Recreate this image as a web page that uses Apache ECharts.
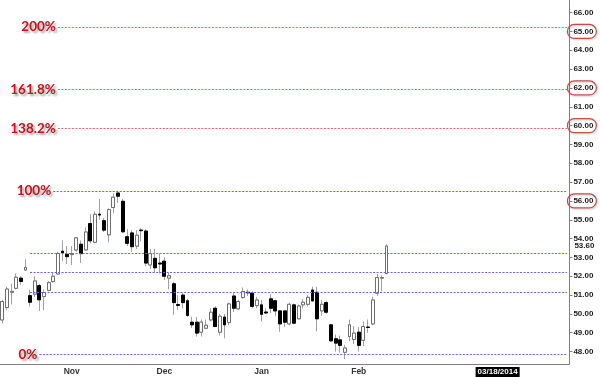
<!DOCTYPE html>
<html><head><meta charset="utf-8">
<script src="https://cdn.jsdelivr.net/npm/echarts@6/dist/echarts.min.js"></script>
<style>html,body{margin:0;padding:0;background:#fff}#c{width:600px;height:377px}</style>
</head><body><div id="c"></div>
<script>
// ---- data ----
const startDate = '2013-10-11';
const holidays = ['2013-11-28', '2013-12-25', '2014-01-01', '2014-01-20', '2014-02-17'];
const categoryCount = 123;
const opens  = [49.68,50.34,51.15,51.36,51.9,52.33,50.97,51.05,51.5,50.92,51.25,51.72,52.12,53.33,53.16,53.15,53.39,53.7,53.4,54.8,53.8,55.3,54.95,54.2,55.65,56.42,55.98,54.1,54.3,53.6,54.45,54.4,52.6,52.95,52.7,52.8,51.9,51.6,50.5,51.0,50.7,49.56,49.56,49.03,49.24,49.68,50.3,49.03,49.83,49.54,50.95,50.27,50.87,51.15,51.1,50.44,50.48,50.1,50.8,50.7,50.16,50.16,49.47,50.48,49.74,50.48,50.51,51.27,51.15,50.16,50.6,49.42,48.68,48.62,47.96,48.8,48.64,49.03,48.6,49.3,49.47,51.1,51.9,52.15];
const closes = [50.66,51.32,51.2,51.95,51.72,52.47,50.62,51.75,50.75,51.13,51.66,52.0,53.21,53.25,53.04,53.2,54.04,53.2,54.35,53.88,55.29,55.25,54.45,55.54,56.2,56.25,54.36,53.75,53.57,54.18,54.42,52.7,53.2,52.45,52.65,52.0,52.03,50.6,50.45,50.6,49.92,49.42,48.98,49.56,49.4,50.09,49.33,49.88,49.42,50.53,50.3,50.66,51.19,51.12,50.4,50.74,49.98,50.05,50.3,50.16,49.47,49.56,50.51,49.51,50.42,50.62,50.88,50.69,49.74,50.51,50.09,48.57,48.45,48.33,48.19,49.42,48.98,48.33,49.33,49.28,50.74,51.93,51.93,53.6];
const lows   = [49.5,50.2,50.5,51.3,51.55,52.3,50.4,50.9,50.15,50.2,51.2,51.65,52.1,52.8,52.65,52.6,53.3,52.7,53.35,53.75,53.75,55.0,54.35,53.8,55.35,55.9,54.3,53.6,53.3,53.45,53.85,52.55,52.4,52.2,52.15,51.8,51.3,49.95,50.2,50.3,49.85,49.25,48.8,48.8,49.2,49.6,49.3,48.85,48.7,49.4,50.1,50.2,50.8,50.95,50.3,50.3,49.6,50.0,50.05,49.9,49.05,49.3,49.4,49.45,49.7,50.3,50.4,50.65,49.07,49.9,50.0,48.5,48.0,47.95,47.6,48.55,48.4,48.0,48.3,49.0,49.4,50.95,51.2,52.1];
const highs  = [50.75,51.45,51.6,52.15,52.0,52.9,51.3,52.0,51.6,51.3,51.75,52.2,53.3,53.9,53.6,53.6,54.1,53.9,54.6,55.3,55.45,56.1,55.1,55.6,56.4,56.55,56.1,54.5,54.45,54.45,54.55,54.5,53.45,53.45,53.2,53.0,52.2,51.7,51.0,51.1,50.8,49.85,49.85,49.7,49.7,50.3,50.4,50.0,50.0,50.6,51.1,50.75,51.4,51.3,51.2,50.9,50.75,50.3,51.05,50.75,50.2,50.2,50.6,50.55,50.5,50.8,51.0,51.45,51.45,50.74,50.7,49.45,48.9,48.85,48.36,49.7,49.35,49.3,49.6,49.7,50.92,52.12,52.05,53.7];
const yTicks = [48,49,50,51,52,53,54,55,56,57,58,59,60,61,62,63,64,65,66];
const circledTicks = [56,60,62,65];
const lastPrice = 53.60;
const fibLow = 47.85, fibHigh = 56.54;
const fibRatios = [0, 0.382, 0.5, 0.618, 1, 1.382, 1.618, 2];
const fibLabels = ['0%', '', '', '', '100%', '138.2%', '161.8%', '200%'];
const fibStartIdx = [8, 6, 6, 6, 11, 12, 12, 12];
const monthNames = ['Jan','Feb','Mar','Apr','May','Jun','Jul','Aug','Sep','Oct','Nov','Dec'];
const markedDate = '2014-03-18';

// ---- categories (trading days) ----
function tradingDays(start, n) {
  const out = []; const d = new Date(start + 'T00:00:00Z');
  while (out.length < n) {
    const s = d.toISOString().slice(0, 10); const wd = d.getUTCDay();
    if (wd !== 0 && wd !== 6 && holidays.indexOf(s) < 0) out.push(s);
    d.setUTCDate(d.getUTCDate() + 1);
  }
  return out;
}
const dates = tradingDays(startDate, categoryCount);
const monthStarts = new Set();
for (let i = 1; i < opens.length; i++) if (dates[i].slice(5, 7) !== dates[i - 1].slice(5, 7)) monthStarts.add(i);

const fullData = opens.map((o, i) => [o, closes[i], lows[i], highs[i]]);
const bodyData = opens.map((o, i) => [o, closes[i], Math.min(o, closes[i]), Math.max(o, closes[i])]);

const fibLines = fibRatios.map((r, k) => {
  const v = +(fibLow + r * (fibHigh - fibLow)).toFixed(3);
  const red = r > 1;
  const col = red ? '#e86a6e' : '#6464f2';
  return [
    { coord: [dates[fibStartIdx[k]], v],
      lineStyle: { color: col, type: [2, 1.5], width: 1 },
      label: { show: !!fibLabels[k], formatter: fibLabels[k], position: 'start', distance: 2,
               color: '#c8101a', fontSize: 13.5, fontWeight: 'bold', fontFamily: 'Lato',
               textShadowColor: 'rgba(0,0,0,0.35)', textShadowBlur: 2, textShadowOffsetX: 2, textShadowOffsetY: 2 } },
    { coord: [dates[categoryCount - 1], v] }
  ];
});

const axisFont = { fontFamily: 'Liberation Sans', fontSize: 8, fontWeight: 'bold', color: '#1a1a1a' };
const yMin = 47.34, yMax = 66.67;

const chart = echarts.init(document.getElementById('c'));
chart.setOption({
  animation: false,
  grid: { left: -1, right: 28, top: 0, bottom: 11 },
  xAxis: {
    type: 'category', data: dates, boundaryGap: true,
    axisLine: { lineStyle: { color: '#808080' } },
    axisTick: { interval: (i) => monthStarts.has(i), length: 3, lineStyle: { color: '#808080' } },
    axisLabel: {
      interval: (i, v) => monthStarts.has(i) || v === markedDate,
      margin: 3, ...axisFont, fontSize: 8.5, color: '#333',
      formatter: (v, i) => v === markedDate
        ? '{d|' + v.slice(5, 7) + '/' + v.slice(8, 10) + '/' + v.slice(0, 4) + '}'
        : monthNames[+v.slice(5, 7) - 1],
      rich: { d: { backgroundColor: '#000', color: '#fff', fontFamily: 'Liberation Sans', fontSize: 8, padding: [1, 2, 1, 2] } }
    },
    splitLine: { show: false }
  },
  yAxis: [{
    type: 'value', position: 'right', min: yMin, max: yMax,
    axisLine: { show: true, lineStyle: { color: '#808080' } },
    axisTick: { show: true, length: 3, customValues: yTicks, lineStyle: { color: '#808080' } },
    splitLine: { show: false },
    axisLabel: {
      customValues: yTicks, margin: -2, ...axisFont,
      formatter: (v) => (circledTicks.indexOf(v) >= 0 ? '{c|' : '{n|') + v.toFixed(2) + '}',
      rich: {
        n: { ...axisFont, padding: [0, 0, 0, 6] },
        c: { ...axisFont, padding: [3, 3, 3, 6], borderColor: '#c0504d', borderWidth: 1.2, borderRadius: 9,
             shadowColor: 'rgba(0,0,0,0.25)', shadowBlur: 2, shadowOffsetX: 1, shadowOffsetY: 1 }
      }
    }
  }, {
    type: 'value', position: 'right', min: yMin, max: yMax,
    axisLine: { show: false }, axisTick: { show: false }, splitLine: { show: false },
    axisLabel: { customValues: [lastPrice], margin: 5, ...axisFont, formatter: (v) => v.toFixed(2) }
  }],
  series: [{
    type: 'candlestick', data: fullData, barWidth: 3.4, silent: true,
    itemStyle: { color: '#a0a0a0', color0: '#a0a0a0', borderColor: '#a0a0a0', borderColor0: '#a0a0a0', borderWidth: 1 }
  }, {
    type: 'candlestick', data: bodyData, barWidth: 3.4, silent: true,
    itemStyle: { color: '#ffffff', color0: '#000000', borderColor: '#6e6e6e', borderColor0: '#000000', borderWidth: 1 },
    markLine: { silent: true, symbol: 'none', animation: false, data: fibLines }
  }]
});
</script></body></html>
